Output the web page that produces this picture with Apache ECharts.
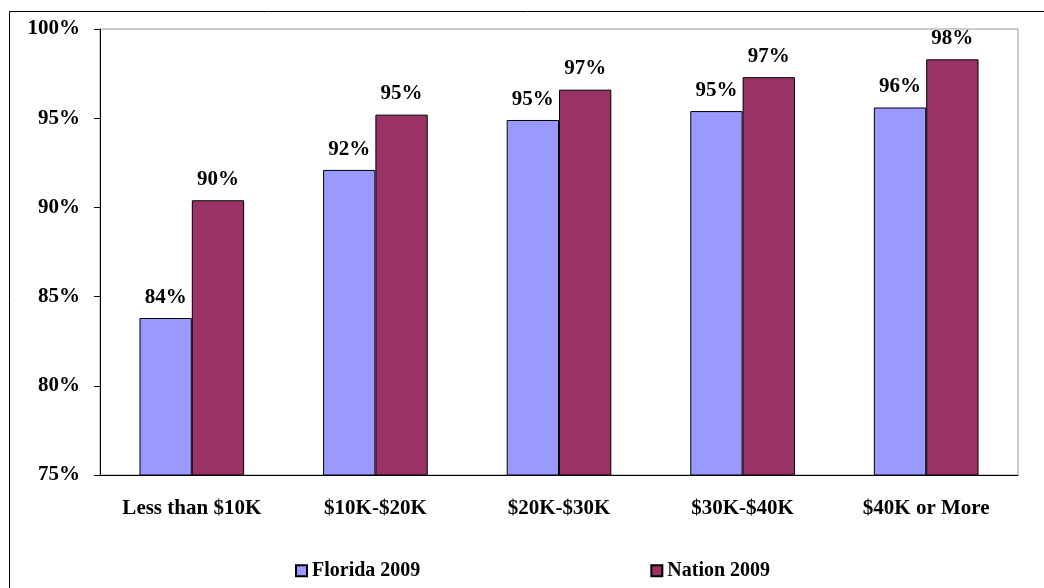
<!DOCTYPE html>
<html>
  <head>
    <title>income chart</title>
    <script src="https://cdn.jsdelivr.net/npm/echarts@6/dist/echarts.min.js"></script>
  </head>
  <body style="margin:0">
    <div id="main" style="width: 1044px; height: 588px"></div>
    <script>
      var categories = ["Less than $10K", "$10K-$20K", "$20K-$30K", "$30K-$40K", "$40K or More"];
      var florida = [83.8, 92.1, 94.9, 95.4, 95.6];
      var nation = [90.4, 95.2, 96.6, 97.3, 98.3];
      var yTicks = [75, 80, 85, 90, 95, 100];

      var font = "'Liberation Serif', 'Times New Roman', serif";
      var myChart = echarts.init(document.getElementById("main"));

      function pctLabel(p) {
        return Math.round(p.value) + "%";
      }

      var option = {
        animation: false,
        backgroundColor: "#fff",
        graphic: [
          {
            type: "polyline",
            shape: { points: [[9.5, 600], [9.5, 11.5], [1050, 11.5]] },
            style: { stroke: "#000", lineWidth: 1, fill: null },
          },
        ],
        grid: {
          left: 100,
          right: 26,
          top: 29,
          bottom: 113,
          show: true,
          borderColor: "#999",
          borderWidth: 1,
        },
        legend: {
          left: 290,
          top: 550,
          itemWidth: 11,
          itemHeight: 11,
          itemGap: 230,
          icon: "rect",
          textStyle: { fontFamily: font, fontWeight: "bold", fontSize: 20, color: "#000" },
          data: ["Florida 2009", "Nation 2009"],
        },
        xAxis: {
          type: "category",
          data: categories,
          axisLine: { lineStyle: { color: "#000" } },
          axisTick: { length: 6, lineStyle: { color: "#000" } },
          axisLabel: { margin: 17, fontFamily: font, fontWeight: "bold", fontSize: 21, color: "#000" },
        },
        yAxis: {
          type: "value",
          min: yTicks[0],
          max: yTicks[yTicks.length - 1],
          interval: 5,
          splitLine: { show: false },
          axisLine: { show: true, lineStyle: { color: "#000" } },
          axisTick: { show: true, length: 6, lineStyle: { color: "#000" } },
          axisLabel: {
            margin: 20,
            fontFamily: font,
            fontWeight: "bold",
            fontSize: 21,
            color: "#000",
            formatter: "{value}%",
          },
        },
        series: [
          {
            name: "Florida 2009",
            type: "bar",
            data: florida,
            barGap: "0%",
            barCategoryGap: "43%",
            itemStyle: { color: "#9999FF", borderColor: "#000", borderWidth: 1 },
            label: {
              show: true,
              position: "top",
              distance: 4,
              formatter: pctLabel,
              fontFamily: font,
              fontWeight: "bold",
              fontSize: 21,
              color: "#000",
            },
          },
          {
            name: "Nation 2009",
            type: "bar",
            data: nation,
            itemStyle: { color: "#993366", borderColor: "#000", borderWidth: 1 },
            label: {
              show: true,
              position: "top",
              distance: 4,
              formatter: pctLabel,
              fontFamily: font,
              fontWeight: "bold",
              fontSize: 21,
              color: "#000",
            },
          },
        ],
      };

      myChart.setOption(option);
    </script>
  </body>
</html>
